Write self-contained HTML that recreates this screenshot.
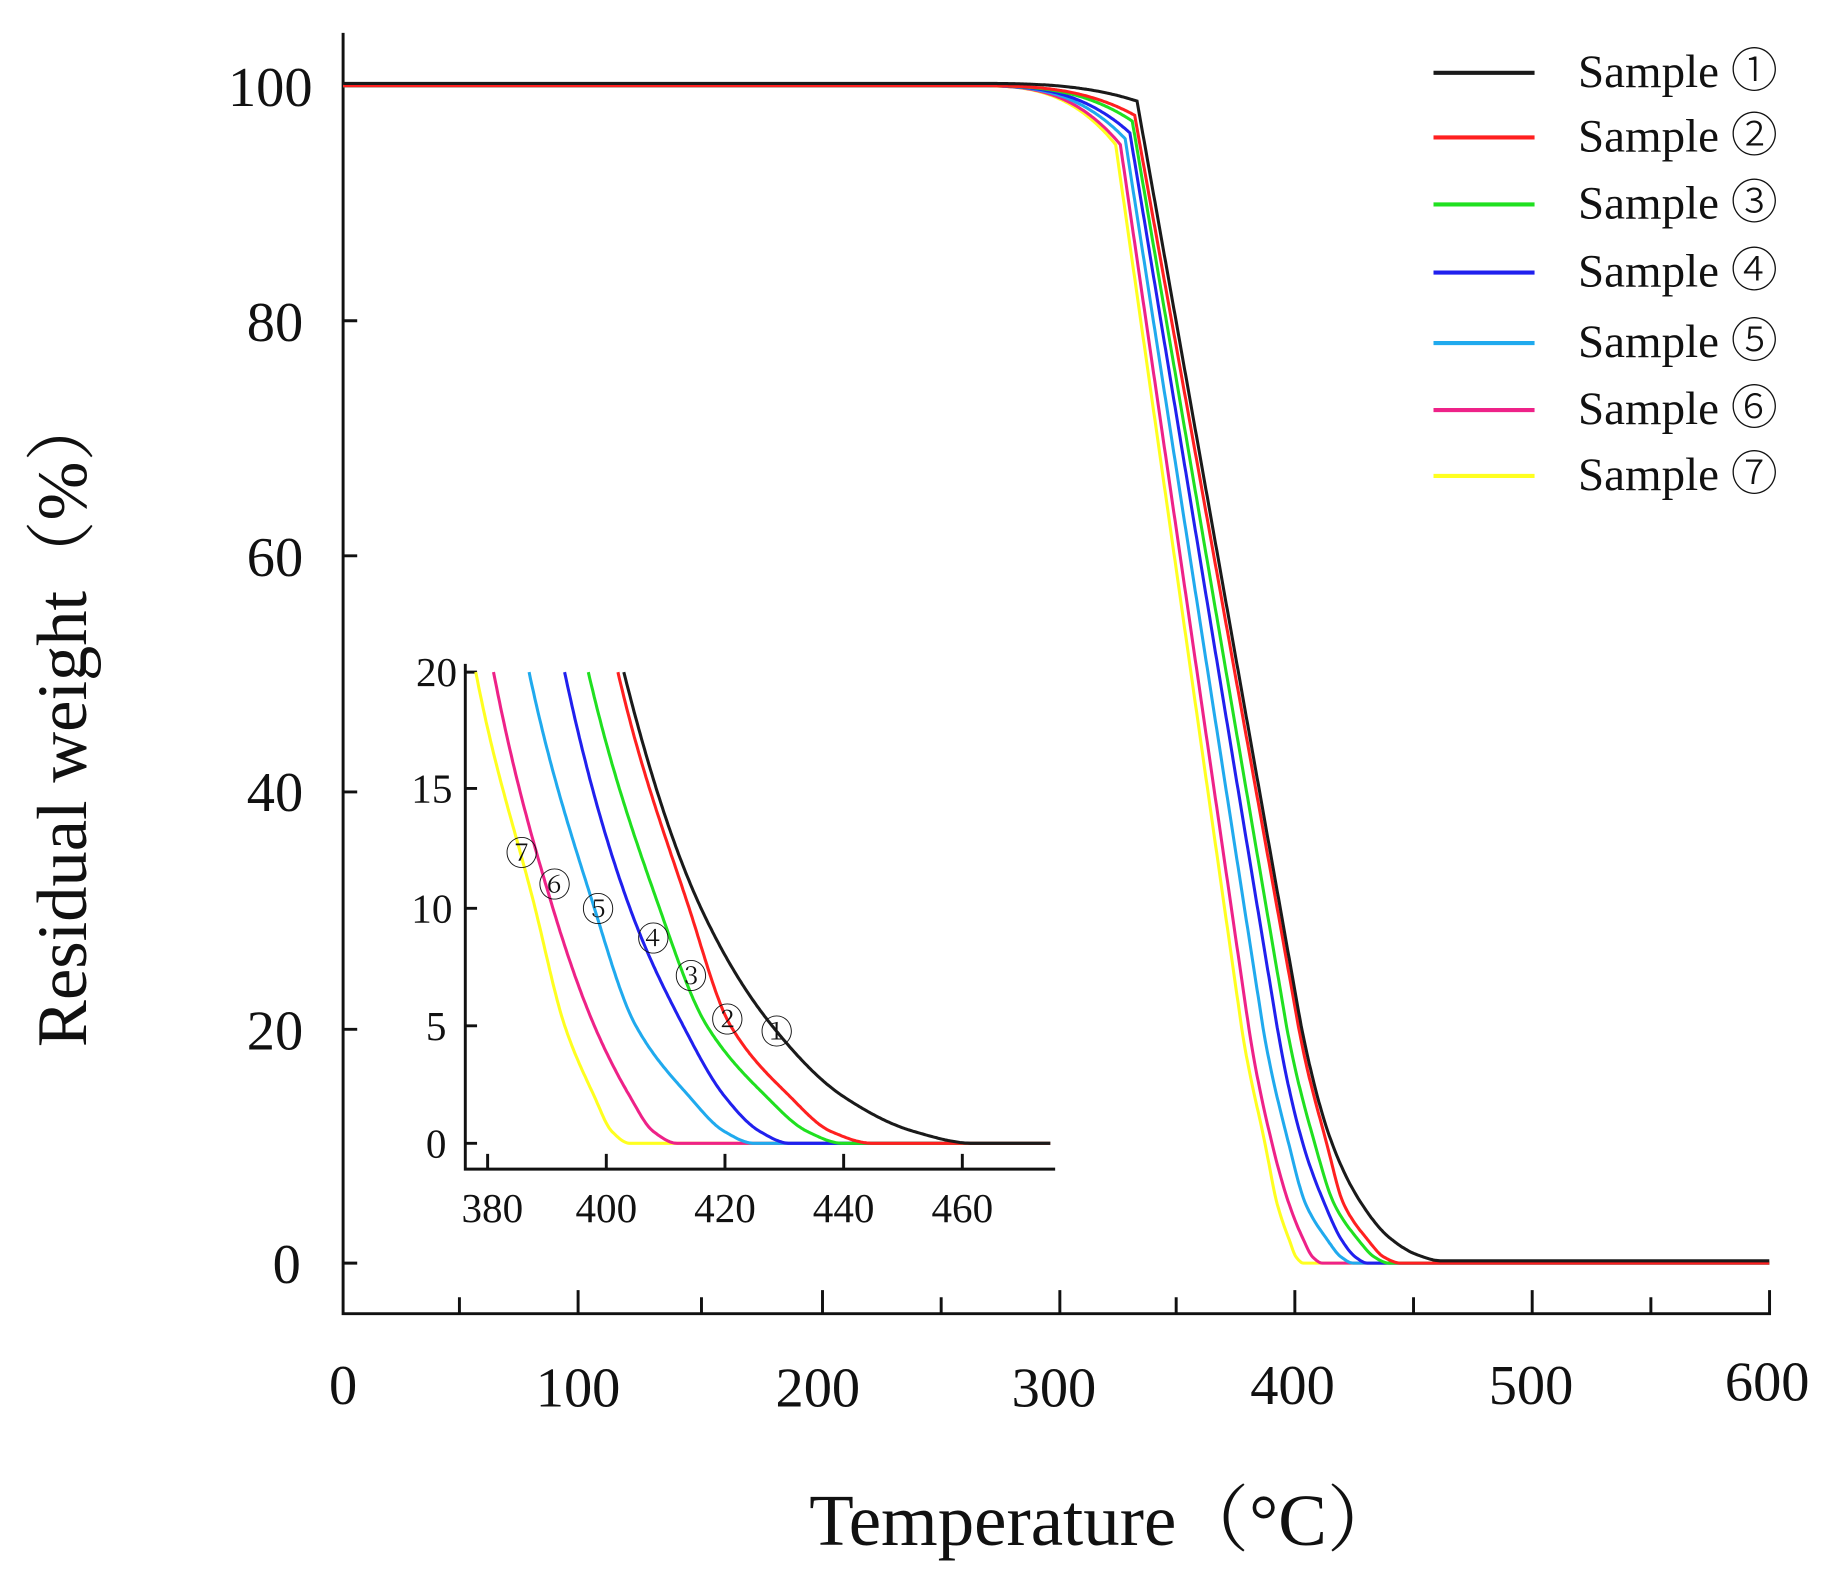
<!DOCTYPE html>
<html><head><meta charset="utf-8"><style>
html,body{margin:0;padding:0;background:#fff}
svg{display:block}
text{font-family:"Liberation Serif","DejaVu Serif","Noto Serif CJK SC",serif;fill:#111}
.c{font-family:"Noto Sans CJK SC","DejaVu Sans",sans-serif;font-weight:300}
</style></head><body>
<svg id="s" width="1833" height="1571" viewBox="0 0 1560 1337" preserveAspectRatio="none" xmlns="http://www.w3.org/2000/svg">
<g stroke="#111" stroke-width="2.5" fill="none">
<path d="M292 28 V1118 H1506 V1098"/>
<path d="M391 1118 v-14 M492 1118 v-20 M597 1118 v-14 M700 1118 v-20 M801 1118 v-14 M902 1118 v-20 M1001 1118 v-14 M1102 1118 v-20 M1203 1118 v-14 M1304 1118 v-20 M1405 1118 v-14"/>
<path d="M292 273 h12 M292 473 h12 M292 674 h12 M292 876 h12 M292 1075 h12"/>
</g>
<g font-size="48" text-anchor="middle">
<text x="292" y="1195">0</text><text x="492" y="1197">100</text><text x="696" y="1197">200</text>
<text x="897" y="1197">300</text><text x="1100" y="1195">400</text><text x="1303" y="1195">500</text><text x="1504" y="1192">600</text>
</g>
<g font-size="48" text-anchor="end">
<text x="266" y="90">100</text><text x="258" y="290">80</text><text x="258" y="490">60</text>
<text x="258" y="690">40</text><text x="258" y="893">20</text><text x="256" y="1092">0</text>
</g>
<text transform="translate(73,612) rotate(-90)" font-size="60" text-anchor="middle">Residual weight（%）</text>
<text x="940" y="1315" font-size="62" text-anchor="middle">Temperature（°C）</text>
<g id="legend"></g>
<g id="main" fill="none" stroke-width="2.6"></g>
<g stroke="#111" stroke-width="2.5" fill="none">
<path d="M396 565 V995 H898"/>
<path d="M396 572 h10 M396 671 h10 M396 773 h10 M396 873 h10 M396 973 h10"/>
<path d="M415 995 v-13 M516 995 v-13 M617 995 v-13 M718 995 v-13 M819 995 v-13"/>
</g>
<g id="inset" fill="none" stroke-width="2.6"></g>
<g font-size="35" text-anchor="end">
<text x="389" y="584">20</text><text x="385" y="683">15</text><text x="385" y="785">10</text><text x="380" y="885">5</text><text x="380" y="985">0</text>
</g>
<g font-size="35" text-anchor="middle">
<text x="419" y="1040">380</text><text x="516" y="1040">400</text><text x="617" y="1040">420</text><text x="718" y="1040">440</text><text x="819" y="1040">460</text>
</g>
<g class="c" font-size="28" text-anchor="middle">
<text x="444" y="736">⑦</text><text x="472" y="763">⑥</text><text x="509" y="784">⑤</text><text x="556" y="809">④</text><text x="588" y="841">③</text><text x="619" y="878">②</text><text x="661" y="888">①</text>
</g>
</svg>
<script>
var cols=["#1a1a1a","#ff2020","#20e020","#2020ee","#20aaee","#ee2288","#ffff20"];
var S=[
 [334,98.5,[403,416,428,440,452,462]],
 [333,97.5,[402,414,421,431,438,445]],
 [332,97,[397,409,417,427,434,440]],
 [331,96,[393,404,413,420,426,431]],
 [329,95.5,[387,398,405,414,420,425]],
 [327,95,[381,391,398,404,408,412]],
 [325,95,[378,388,393,398,401,404]]];
function mono(p,m0){var n=p.length,d=[],m=[];
 for(var i=0;i<n-1;i++)d.push((p[i+1][1]-p[i][1])/(p[i+1][0]-p[i][0]));
 m[0]=m0;m[n-1]=d[n-2];
 for(var i=1;i<n-1;i++){if(d[i-1]*d[i]<=0)m[i]=0;else{m[i]=2/(1/d[i-1]+1/d[i]);}}
 return m;}
function herm(p,m,T){for(var i=0;i<p.length-1;i++){if(T<=p[i+1][0]){var a=p[i],b=p[i+1],h=b[0]-a[0];var u=(T-a[0])/h;
 var u2=u*u,u3=u2*u;var v=(2*u3-3*u2+1)*a[1]+(u3-2*u2+u)*h*m[i]+(-2*u3+3*u2)*b[1]+(u3-u2)*h*m[i+1];
 return Math.max(0,Math.min(100,v));}}return 0;}
function make(s){var k=s[0],w=s[1],t=s[2];var sl=(20-w)/(t[0]-k);
 var tail=[[t[0],20],[t[1],10],[t[2],5],[t[3],2],[t[4],0.5],[t[5],0],[600,0]];
 var m=mono(tail,sl);m[0]=Math.max(sl,(10-20)/(t[1]-t[0])*1.3);
 return function(T){
  if(T<265)return 100;
  if(T<k){var u=(T-265)/(k-265);return 100-(100-w)*Math.pow(u,3);}
  if(T<t[0])return w+sl*(T-k);
  return herm(tail,m,T);};}
var ns="http://www.w3.org/2000/svg";
function path(g,d,c){var e=document.createElementNS(ns,"path");e.setAttribute("d",d);e.setAttribute("stroke",c);g.appendChild(e);}
var main=document.getElementById("main"),ins=document.getElementById("inset"),lg=document.getElementById("legend");
for(var j=6;j>=0;j--){var f=make(S[j]);var d="";
 for(var T=0;T<=600;T+=0.5){var w=f(T);d+=(T?"L":"M")+(292+T*2.023).toFixed(1)+" "+(1075-w*10.02+(j==0?-2:0)).toFixed(1);}
 path(main,d,cols[j]);
 var d2="",st=false;
 for(var T=376;T<=475;T+=0.25){var w=f(T);if(w>20.01)continue;d2+=(st?"L":"M")+(415+(T-380)*5.04).toFixed(1)+" "+(973-w*20.05).toFixed(1);st=true;}
 path(ins,d2,cols[j]);
}
var ly=[62,117,174,232,292,349,405],lab=["①","②","③","④","⑤","⑥","⑦"];
for(var j=0;j<7;j++){path(lg,"M1220 "+ly[j]+" H1306",cols[j]);lg.lastChild.setAttribute("stroke-width","3.5");
 var t=document.createElementNS(ns,"text");t.setAttribute("x","1343");t.setAttribute("y",ly[j]+12);t.setAttribute("font-size","40");
 t.textContent="Sample ";var ts=document.createElementNS(ns,"tspan");ts.setAttribute("class","c");ts.textContent=lab[j];t.appendChild(ts);lg.appendChild(t);}
</script>
</body></html>
